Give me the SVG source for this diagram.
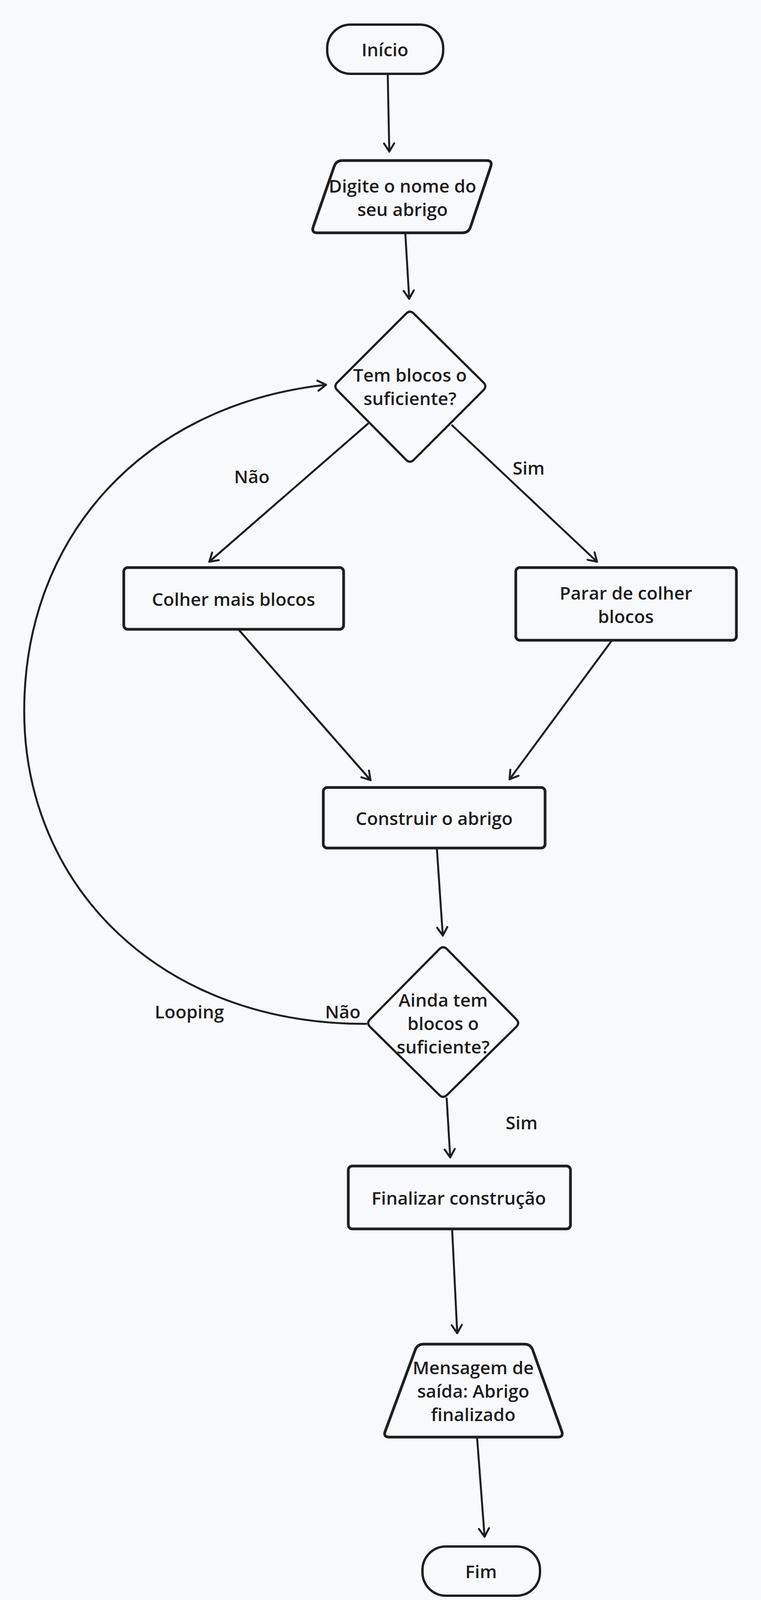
<svg xmlns="http://www.w3.org/2000/svg" width="1949" height="4147" viewBox="0 0 1949 4147">
<style>
.bg{fill:#f8f9fa}
.node{fill:none;stroke:#1e1e1e;stroke-linejoin:round}
.box{stroke-width:7}
.pill{stroke-width:6}
.dia{stroke-width:5.5}
.edge{fill:none;stroke:#1e1e1e;stroke-width:5;stroke-linecap:round}
text{font-family:"Open Sans","Noto Sans","Liberation Sans",sans-serif;font-weight:600;font-size:46px;fill:#1e1e1e;text-anchor:middle;dominant-baseline:central}
</style>
<defs>
<marker id="ah" markerUnits="userSpaceOnUse" orient="auto" overflow="visible" markerWidth="30" markerHeight="30" refX="0" refY="0">
<path d="M -21,-13 L 0,0 L -21,13" fill="none" stroke="#1e1e1e" stroke-width="5" stroke-linecap="round" stroke-linejoin="round"/>
</marker>
</defs>
<rect class="bg" x="0" y="0" width="1949" height="4147"/>
<g id="connectors">
<line class="edge" x1="993" y1="190" x2="997" y2="388" marker-end="url(#ah)"/>
<line class="edge" x1="1038" y1="597" x2="1048" y2="765" marker-end="url(#ah)"/>
<line class="edge" x1="942" y1="1085" x2="536" y2="1438" marker-end="url(#ah)"/>
<line class="edge" x1="1158" y1="1089" x2="1529" y2="1438" marker-end="url(#ah)"/>
<line class="edge" x1="613" y1="1614" x2="949" y2="1997" marker-end="url(#ah)"/>
<line class="edge" x1="1566" y1="1641" x2="1305" y2="1995" marker-end="url(#ah)"/>
<line class="edge" x1="1119" y1="2174" x2="1134" y2="2395" marker-end="url(#ah)"/>
<line class="edge" x1="1144" y1="2812" x2="1153" y2="2963" marker-end="url(#ah)"/>
<line class="edge" x1="1158" y1="3148" x2="1171" y2="3413" marker-end="url(#ah)"/>
<line class="edge" x1="1222" y1="3682" x2="1241" y2="3934" marker-end="url(#ah)"/>
<path class="edge" d="M 938,2621 C 413,2623 62,2270 62,1820 C 62,1370 371,1036 835,985" marker-end="url(#ah)"/>
<text x="645" y="1219">Não</text>
<text x="1354" y="1197">Sim</text>
<text x="485" y="2589">Looping</text>
<text x="878" y="2589">Não</text>
<text x="1336" y="2873">Sim</text>
</g>
<g id="inicio">
<rect class="node pill" x="838" y="63" width="297" height="126" rx="60" ry="60"/>
<text x="986" y="126">Início</text>
</g>
<g id="digite">
<path class="node box" d="M 877,411 L 1246,411 Q 1262,411 1256.9,426.2 L 1205.1,580.8 Q 1200,596 1184,596 L 813,596 Q 797,596 802.2,580.9 L 855.8,426.1 Q 861,411 877,411 Z"/>
<text x="1031" y="475">Digite o nome do</text>
<text x="1031" y="535">seu abrigo</text>
</g>
<g id="tem-blocos">
<path class="node dia" d="M 1040,803 Q 1050,793 1060,803 L 1238,979 Q 1248,989 1238,999 L 1060,1177 Q 1050,1187 1040,1177 L 864,999 Q 854,989 864,979 Z"/>
<text x="1050" y="959">Tem blocos o</text>
<text x="1050" y="1019">suficiente?</text>
</g>
<g id="colher">
<rect class="node box" x="317" y="1453" width="563" height="158" rx="10" ry="10"/>
<text x="598" y="1533">Colher mais blocos</text>
</g>
<g id="parar">
<rect class="node box" x="1321" y="1453" width="565" height="186" rx="10" ry="10"/>
<text x="1603" y="1517">Parar de colher</text>
<text x="1603" y="1577">blocos</text>
</g>
<g id="construir">
<rect class="node box" x="828" y="2016" width="568" height="155" rx="10" ry="10"/>
<text x="1112" y="2094">Construir o abrigo</text>
</g>
<g id="ainda-tem">
<path class="node dia" d="M 1125,2430 Q 1135,2420 1145,2430 L 1322,2609 Q 1332,2619 1322,2629 L 1145,2803 Q 1135,2813 1125,2803 L 948,2629 Q 938,2619 948,2609 Z"/>
<text x="1135" y="2559">Ainda tem</text>
<text x="1135" y="2619">blocos o</text>
<text x="1135" y="2679">suficiente?</text>
</g>
<g id="finalizar">
<rect class="node box" x="892" y="2985" width="569" height="161" rx="10" ry="10"/>
<text x="1175" y="3066">Finalizar construção</text>
</g>
<g id="mensagem">
<path class="node box" d="M 1085,3441 L 1343,3441 Q 1359,3441 1364.4,3456.1 L 1438.6,3663.9 Q 1444,3679 1428,3679 L 997,3679 Q 981,3679 986.6,3664 L 1063.4,3456 Q 1069,3441 1085,3441 Z"/>
<text x="1212" y="3500">Mensagem de</text>
<text x="1212" y="3560">saída: Abrigo</text>
<text x="1212" y="3620">finalizado</text>
</g>
<g id="fim">
<rect class="node pill" x="1082" y="3959" width="301" height="126" rx="60" ry="60"/>
<text x="1232" y="4022">Fim</text>
</g>
</svg>
